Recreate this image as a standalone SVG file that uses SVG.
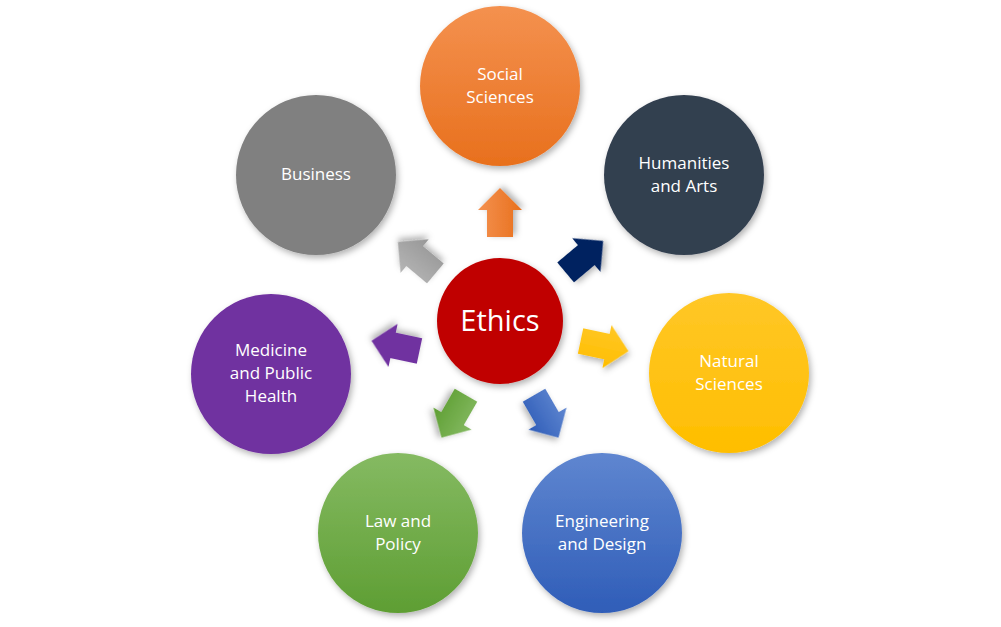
<svg xmlns="http://www.w3.org/2000/svg" width="1001" height="627" viewBox="0 0 1001 627">
<defs>
<filter id="sh" x="-20%" y="-20%" width="150%" height="150%"><feDropShadow dx="2" dy="3" stdDeviation="3" flood-color="#000" flood-opacity="0.3"/></filter>
<linearGradient id="gO" x1="0" y1="0" x2="0" y2="1"><stop offset="0" stop-color="#F4914F"/><stop offset="1" stop-color="#E8701D"/></linearGradient>
<linearGradient id="gB" x1="0" y1="0" x2="0" y2="1"><stop offset="0" stop-color="#5F86D0"/><stop offset="1" stop-color="#2F5DB8"/></linearGradient>
<linearGradient id="gG" x1="0" y1="0" x2="0" y2="1"><stop offset="0" stop-color="#85BA62"/><stop offset="1" stop-color="#5E9E33"/></linearGradient>
<linearGradient id="gY" x1="0" y1="0" x2="0" y2="1"><stop offset="0" stop-color="#FFC727"/><stop offset="1" stop-color="#FFBE00"/></linearGradient>
<linearGradient id="gS" x1="0" y1="0" x2="0" y2="1"><stop offset="0" stop-color="#B5B5B5"/><stop offset="1" stop-color="#979797"/></linearGradient>
<path id="ar" d="M-24,-13 H3 V-22 L25,0 L3,22 V13 H-24 Z"/>
</defs>
<style>
circle{filter:url(#sh)}
text{font-family:"Open Sans","Liberation Sans",sans-serif;font-size:17px;fill:#fff;text-anchor:middle}
.a use{filter:url(#sh)}
</style>
<rect width="1001" height="627" fill="#fff"/>
<g id="connectors" class="a">
<use href="#ar" fill="url(#gO)" transform="translate(500,213) rotate(-90)"/>
<use href="#ar" fill="#002060" transform="translate(584,257) rotate(-40)"/>
<use href="#ar" fill="url(#gY)" transform="translate(604,346) rotate(12)"/>
<use href="#ar" fill="url(#gB)" transform="translate(546,416) rotate(60)"/>
<use href="#ar" fill="url(#gG)" transform="translate(454,416) rotate(120)"/>
<use href="#ar" fill="#7030A0" transform="translate(396,346) rotate(192)"/>
<use href="#ar" fill="url(#gS)" transform="translate(417,258) rotate(-140)"/>
</g>
<g id="ethics"><circle cx="500" cy="321" r="63" fill="#C00000"/><text x="500" y="331" style="font-size:29px">Ethics</text></g>
<g id="social"><circle cx="500" cy="86" r="80" fill="url(#gO)"/><text x="500" y="80">Social</text><text x="500" y="103">Sciences</text></g>
<g id="humanities"><circle cx="684" cy="175" r="80" fill="#333F50"/><text x="684" y="169">Humanities</text><text x="684" y="192">and Arts</text></g>
<g id="natural"><circle cx="729" cy="373" r="80" fill="url(#gY)"/><text x="729" y="367">Natural</text><text x="729" y="390">Sciences</text></g>
<g id="engineering"><circle cx="602" cy="533" r="80" fill="url(#gB)"/><text x="602" y="527">Engineering</text><text x="602" y="550">and Design</text></g>
<g id="law"><circle cx="398" cy="533" r="80" fill="url(#gG)"/><text x="398" y="527">Law and</text><text x="398" y="550">Policy</text></g>
<g id="medicine"><circle cx="271" cy="374" r="80" fill="#7030A0"/><text x="271" y="356">Medicine</text><text x="271" y="379">and Public</text><text x="271" y="402">Health</text></g>
<g id="business"><circle cx="316" cy="175" r="80" fill="#808080"/><text x="316" y="180">Business</text></g>
</svg>
